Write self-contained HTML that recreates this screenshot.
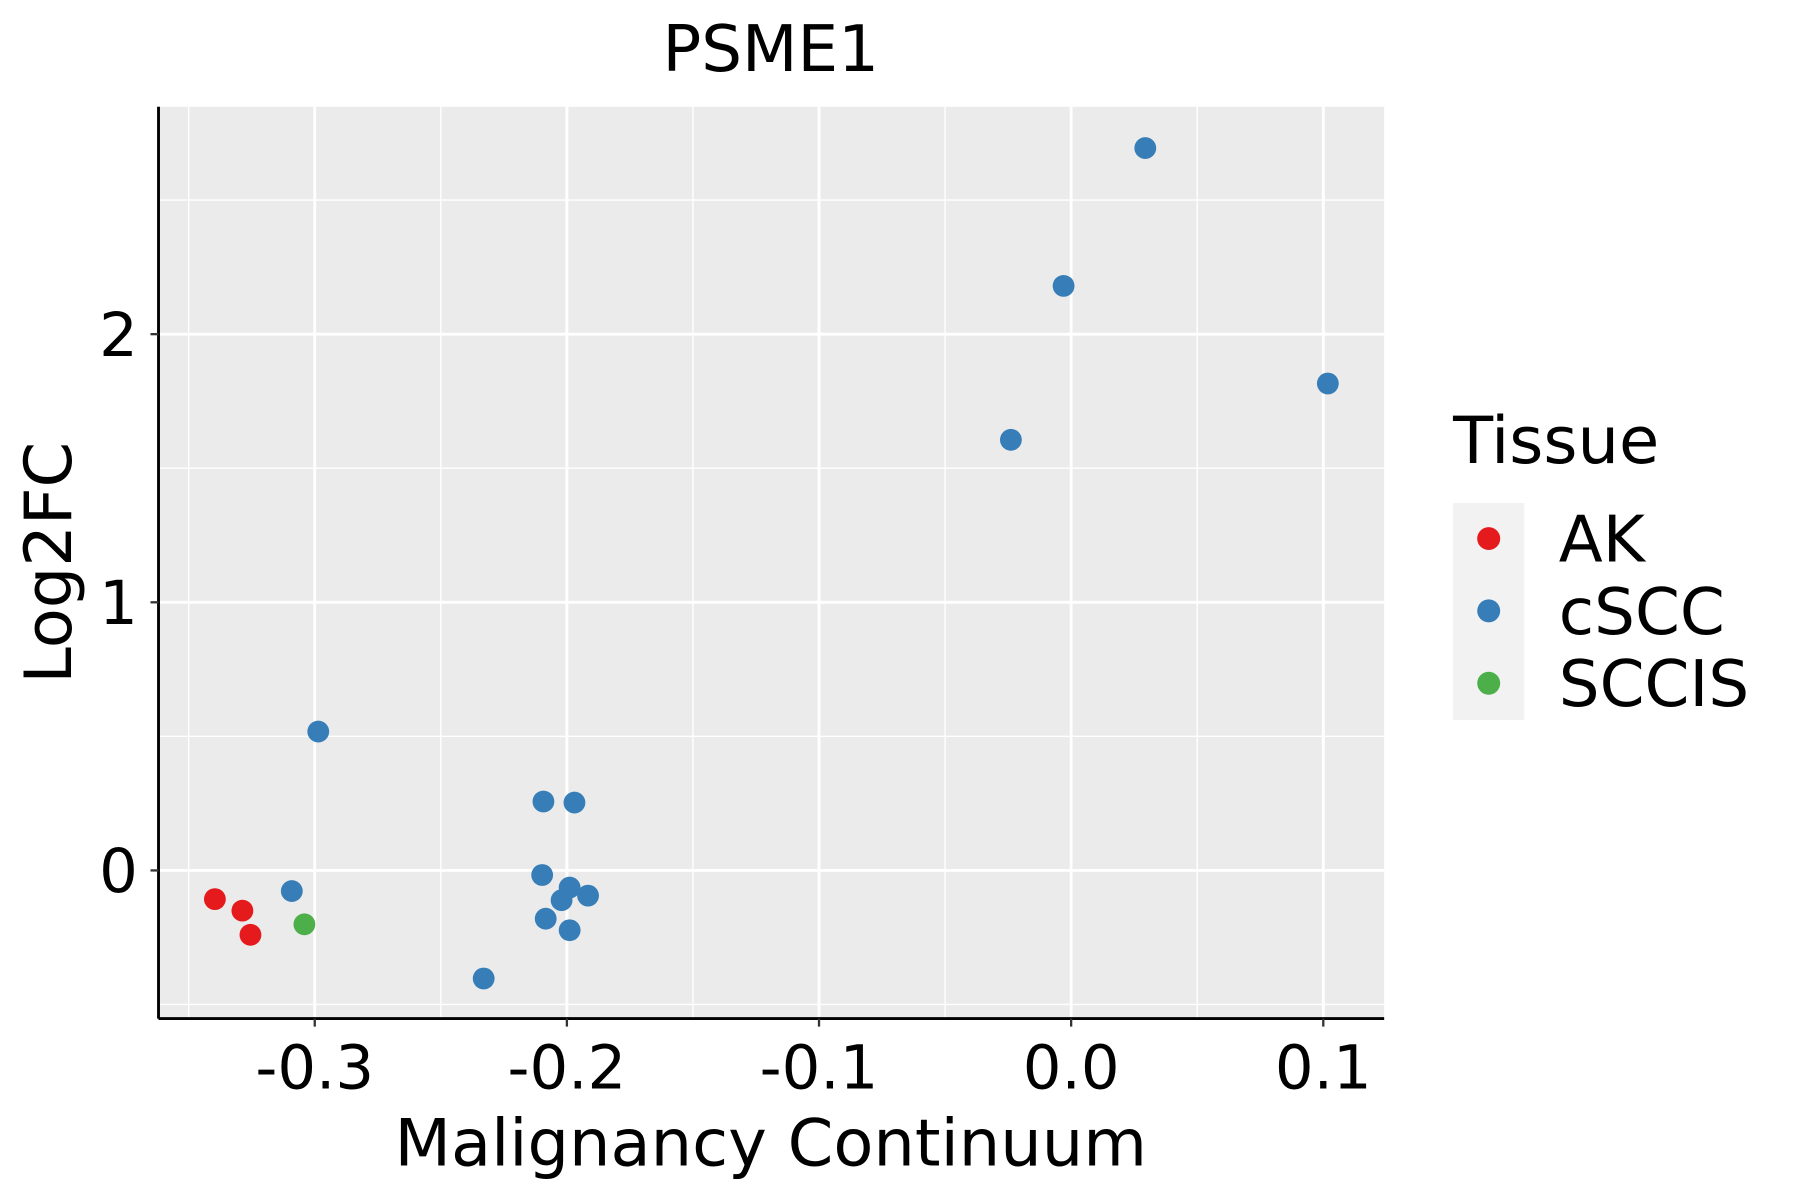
<!DOCTYPE html>
<html><head><meta charset="utf-8"><style>html,body{margin:0;padding:0;background:#fff}svg{display:block}text{font-family:"DejaVu Sans","Liberation Sans",sans-serif;fill:#000}</style></head>
<body>
<svg id="chart" width="1800" height="1200" viewBox="0 0 1567 1045" preserveAspectRatio="none" xmlns="http://www.w3.org/2000/svg">
<rect x="0" y="0" width="1567" height="1045" fill="#fff"/>
<rect x="138" y="93" width="1067" height="794" fill="#ebebeb"/>
<g id="grid"></g>
<g id="points"></g>
<line x1="138" y1="887" x2="1205" y2="887" stroke="#000" stroke-width="2.5"/>
<line x1="138" y1="93" x2="138" y2="887" stroke="#000" stroke-width="2.5"/>
<g id="ticks"></g>
<text x="671" y="62" font-size="56" text-anchor="middle">PSME1</text>
<text x="671" y="1015" font-size="57" text-anchor="middle">Malignancy Continuum</text>
<text transform="translate(62,490) rotate(-90)" font-size="57" text-anchor="middle">Log2FC</text>
<g>
<text x="1265" y="403" font-size="57">Tissue</text>
<rect x="1265" y="438" width="62" height="189" fill="#f2f2f2"/>
<g id="legend-entries"></g>
</g>
</svg>
<script>
const categories = ["AK","cSCC","SCCIS"];
const colors = ["#e41a1c","#377eb8","#4daf4a"];
const xValues = [-0.3396,-0.3287,-0.3255,-0.3041,-0.2986,-0.3091,-0.2093,-0.1970,-0.2098,-0.1989,-0.2021,-0.1916,-0.2084,-0.1989,-0.2330,-0.0239,-0.0030,0.0294,0.1018];
const yValues = [-0.107,-0.150,-0.240,-0.201,0.518,-0.077,0.257,0.253,-0.017,-0.064,-0.111,-0.094,-0.180,-0.223,-0.403,1.606,2.180,2.694,1.816];
const tissue = ["AK","AK","AK","SCCIS","cSCC","cSCC","cSCC","cSCC","cSCC","cSCC","cSCC","cSCC","cSCC","cSCC","cSCC","cSCC","cSCC","cSCC","cSCC"];
const xTicks = [-0.3,-0.2,-0.1,0.0,0.1];
const xTickLabels = ["-0.3","-0.2","-0.1","0.0","0.1"];
const yTicks = [0,1,2];
const yTickLabels = ["0","1","2"];
const xMinor = [-0.35,-0.25,-0.15,-0.05,0.05];
const yMinor = [-0.5,0.5,1.5,2.5];

const NS="http://www.w3.org/2000/svg";
const L=138,R=1205,T=93,B=887;
function xs(v){return 274+(v+0.3)*2195;}
function ys(v){return 758-v*233.5;}
function mk(tag,attrs,parent){const e=document.createElementNS(NS,tag);for(const k in attrs)e.setAttribute(k,attrs[k]);parent.appendChild(e);return e;}
const grid=document.getElementById('grid'),pts=document.getElementById('points'),ticks=document.getElementById('ticks'),leg=document.getElementById('legend-entries');
xMinor.forEach(v=>{const l=mk('line',{x1:xs(v),x2:xs(v),y1:T,y2:B,stroke:'#fff','stroke-width':1.2},grid);

});
yMinor.forEach(v=>{const l=mk('line',{x1:L,x2:R,y1:ys(v),y2:ys(v),stroke:'#fff','stroke-width':1.2},grid);

});
xTicks.forEach((v,i)=>{const l=mk('line',{x1:xs(v),x2:xs(v),y1:T,y2:B,stroke:'#fff','stroke-width':2.5},grid);


const t=mk('line',{x1:xs(v),x2:xs(v),y1:B,y2:B+7,stroke:'#333','stroke-width':2},ticks);


const tx=mk('text',{x:xs(v),y:948,'font-size':53,'text-anchor':'middle',fill:'#1a1a1a'},ticks);tx.textContent=xTickLabels[i];

});
yTicks.forEach((v,i)=>{const l=mk('line',{x1:L,x2:R,y1:ys(v),y2:ys(v),stroke:'#fff','stroke-width':2.5},grid);


const t=mk('line',{x1:L-7,x2:L,y1:ys(v),y2:ys(v),stroke:'#333','stroke-width':2},ticks);


const tx=mk('text',{x:120,y:ys(v)+19,'font-size':53,'text-anchor':'end',fill:'#1a1a1a'},ticks);tx.textContent=yTickLabels[i];

});
xValues.forEach((v,i)=>{const c=mk('circle',{cx:xs(v),cy:ys(yValues[i]),r:9.5,fill:colors[categories.indexOf(tissue[i])]},pts);

});
categories.forEach((c,i)=>{const y=469+i*63;
const d=mk('circle',{cx:1296,cy:y,r:10,fill:colors[i]},leg);


const t=mk('text',{x:1357,y:y+20,'font-size':56},leg);t.textContent=c;

});
</script>
</body></html>
